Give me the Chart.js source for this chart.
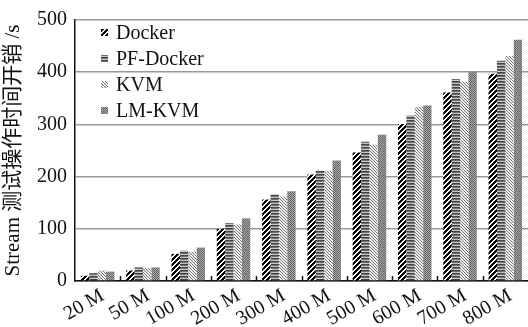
<!DOCTYPE html>
<html>
<head>
<meta charset="utf-8">
<script src="https://cdn.jsdelivr.net/npm/chart.js@4.4.0/dist/chart.umd.min.js"></script>
<style>
  html, body { margin: 0; padding: 0; background: #fff; }
  canvas { display: block; }
</style>
</head>
<body>
<canvas id="streamChart" width="528" height="327"></canvas>
<script>
let sizes    = ["20 M", "50 M", "100 M", "200 M", "300 M", "400 M", "500 M", "600 M", "700 M", "800 M"];
let docker   = [10, 20, 52, 100, 156, 204, 246, 301, 361, 397];
let pfDocker = [15, 26, 58, 111, 166, 211, 267, 317, 387, 422];
let kvm      = [20, 25, 56, 108, 162, 211, 261, 334, 382, 431];
let lmKvm    = [18, 26, 64, 120, 172, 231, 280, 336, 401, 462];
let yTicks   = [0, 100, 200, 300, 400, 500];

let serif = '"Liberation Serif", "Noto Sans CJK SC", serif';

// small repeating tiles used as bar fills
function makePattern(w, h, colorAt) {
  let c = document.createElement('canvas');
  c.width = w; c.height = h;
  let g = c.getContext('2d');
  for (let y = 0; y < h; y++) {
    for (let x = 0; x < w; x++) {
      g.fillStyle = colorAt(x, y);
      g.fillRect(x, y, 1, 1);
    }
  }
  return g.createPattern(c, 'repeat');
}

let hatchDocker = makePattern(5, 5, (x, y) => ((x + y) % 5 < 3 ? '#000' : '#fff'));
let hatchPf     = makePattern(1, 3, (x, y) => ['#454545', '#707070', '#c4c4c4'][y]);
let hatchKvm    = makePattern(3, 3, (x, y) => ((x - y + 3) % 3 === 0 ? '#777' : '#f0f0f0'));
let hatchLm     = makePattern(2, 2, (x, y) => ((x + y) % 2 === 0 ? '#666' : '#a6a6a6'));

// legend sits inside the plot, top-left
const plotLegend = {
  id: 'plotLegend',
  afterDraw(chart) {
    const {ctx, chartArea} = chart;
    ctx.save();
    ctx.font = '20px ' + serif;
    ctx.textBaseline = 'middle';
    chart.data.datasets.forEach((ds, i) => {
      const y = chartArea.top + 13 + i * 26;
      ctx.fillStyle = ds.backgroundColor;
      ctx.fillRect(chartArea.left + 26, y - 4, 7, 7);
      ctx.fillStyle = '#111';
      ctx.fillText(ds.label, chartArea.left + 41, y + 1);
    });
    ctx.restore();
  }
};

// short upward ticks between the size groups
const groupTicks = {
  id: 'groupTicks',
  afterDraw(chart) {
    const {ctx, chartArea} = chart;
    const xs = chart.scales.x;
    ctx.save();
    ctx.strokeStyle = '#111';
    ctx.lineWidth = 1.5;
    ctx.beginPath();
    for (let i = 0; i < sizes.length - 1; i++) {
      const px = Math.round(xs.getPixelForValue(i + 0.5)) + 0.5;
      ctx.moveTo(px, chartArea.bottom);
      ctx.lineTo(px, chartArea.bottom - 5);
    }
    ctx.stroke();
    ctx.restore();
  }
};

new Chart(document.getElementById('streamChart'), {
  type: 'bar',
  data: {
    labels: sizes,
    datasets: [
      { label: 'Docker',    data: docker,   backgroundColor: hatchDocker },
      { label: 'PF-Docker', data: pfDocker, backgroundColor: hatchPf },
      { label: 'KVM',       data: kvm,      backgroundColor: hatchKvm },
      { label: 'LM-KVM',    data: lmKvm,    backgroundColor: hatchLm }
    ]
  },
  options: {
    responsive: false,
    animation: false,
    devicePixelRatio: 1,
    layout: { padding: { top: 19, right: 0, bottom: 0, left: 0 } },
    datasets: { bar: { categoryPercentage: 0.74, barPercentage: 1.0, borderWidth: 0 } },
    plugins: {
      legend: { display: false },
      tooltip: { enabled: false }
    },
    scales: {
      x: {
        grid: { display: false },
        border: { color: '#111', width: 1.5 },
        ticks: {
          color: '#111',
          font: { family: serif, size: 20 },
          autoSkip: false,
          minRotation: 30,
          maxRotation: 30,
          padding: -5,
          labelOffset: 5
        },
        afterFit(scale) { scale.height = 46; }
      },
      y: {
        min: 0,
        max: 500,
        afterBuildTicks(scale) { scale.ticks = yTicks.map(v => ({ value: v })); },
        grid: { color: '#999', lineWidth: 1.5, drawTicks: false },
        border: { color: '#111', width: 1.5 },
        ticks: {
          color: '#111',
          font: { family: serif, size: 20 },
          padding: 8
        },
        title: {
          display: true,
          text: 'Stream 测试操作时间开销 /s',
          color: '#111',
          font: { family: serif, size: 21, lineHeight: 1.2 },
          padding: { top: 1, bottom: 0 }
        },
        afterFit(scale) { scale.width = 75; }
      }
    }
  },
  plugins: [plotLegend, groupTicks]
});
</script>
</body>
</html>
